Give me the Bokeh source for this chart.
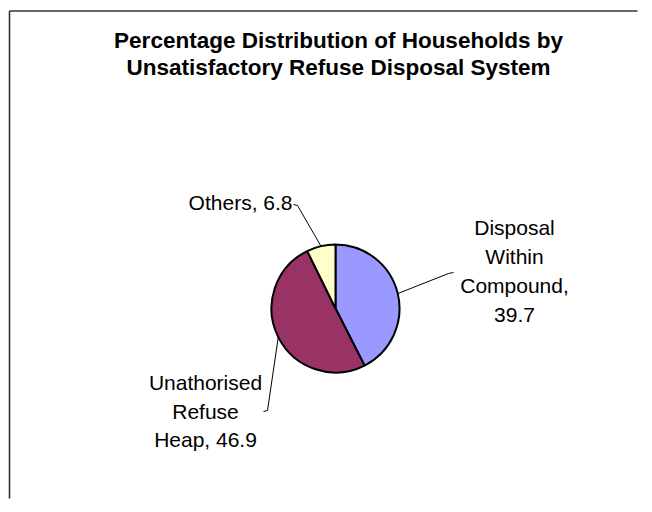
import math
from bokeh.plotting import figure
from bokeh.models import Range1d
from bokeh.core.properties import value
from bokeh.embed import file_html
from bokeh.resources import INLINE

# ---- data ----
title_lines = ["Percentage Distribution of Households by",
               "Unsatisfactory Refuse Disposal System"]
categories = ["Disposal Within Compound", "Unathorised Refuse Heap", "Others"]
values = [39.7, 46.9, 6.8]
colors = ["#9999FF", "#993366", "#FFFFCC"]
label_lines = [["Disposal", "Within", "Compound,", "39.7"],
               ["Unathorised", "Refuse", "Heap, 46.9"],
               ["Others, 6.8"]]

# ---- layout (image pixel coordinates) ----
W, H = 640, 500
FONT = "Liberation Sans"


def X(ix):
    return ix


def Y(iy):
    return H - iy


p = figure(width=W, height=H, output_backend="svg", toolbar_location=None,
           x_range=Range1d(0, W), y_range=Range1d(0, H), min_border=0)
p.axis.visible = False
p.grid.visible = False
p.outline_line_color = None
p.background_fill_color = "white"
p.border_fill_color = "white"

# chart area border (left and top edges), kept inside the frame
p.segment(x0=[X(9), X(9)], y0=[Y(H - 2), Y(10.5)],
          x1=[X(9), X(W - 3)], y1=[Y(10.5), Y(10.5)],
          line_color="#333333", line_width=1.6)

# title
title_y = [40, 67]
for t, ty in zip(title_lines, title_y):
    p.text([X(338)], [Y(ty)], text=[t], text_align="center", text_baseline="middle",
           text_font=value(FONT), text_font_style="bold", text_font_size="22.5px",
           text_color="black")

# pie
cx, cy, r = 335, 308, 64
total = sum(values)
cum = 0.0
mids = []
for v, c in zip(values, colors):
    a0 = math.pi / 2 - 2 * math.pi * cum / total
    a1 = math.pi / 2 - 2 * math.pi * (cum + v) / total
    p.wedge(x=[X(cx)], y=[Y(cy)], radius=r, start_angle=a0, end_angle=a1,
            direction="clock", fill_color=c, line_color="black", line_width=2)
    mids.append(math.pi / 2 - 2 * math.pi * (cum + v / 2) / total)
    cum += v

# leader lines: from slice edge to label elbow
elbows = [[(448, 273), (453, 272)],
          [(267, 410), (263, 411)],
          [(297, 205), (293, 204)]]
for m, el in zip(mids, elbows):
    ex = cx + r * math.cos(m)
    ey = cy - r * math.sin(m)
    xs = [X(ex)] + [X(e[0]) for e in el]
    ys = [Y(ey)] + [Y(e[1]) for e in el]
    p.line(xs, ys, line_color="black", line_width=1)

# labels
label_anchor = [(514, 227, "center", 29), (205, 382, "center", 28.5), (292, 202, "right", 0)]
for lines, (lx, ly, al, gap) in zip(label_lines, label_anchor):
    for i, t in enumerate(lines):
        p.text([X(lx)], [Y(ly + i * gap)], text=[t], text_align=al,
               text_baseline="middle", text_font=value(FONT), text_font_size="21px",
               text_color="black")

open("out.html", "w").write(file_html(p, INLINE))
